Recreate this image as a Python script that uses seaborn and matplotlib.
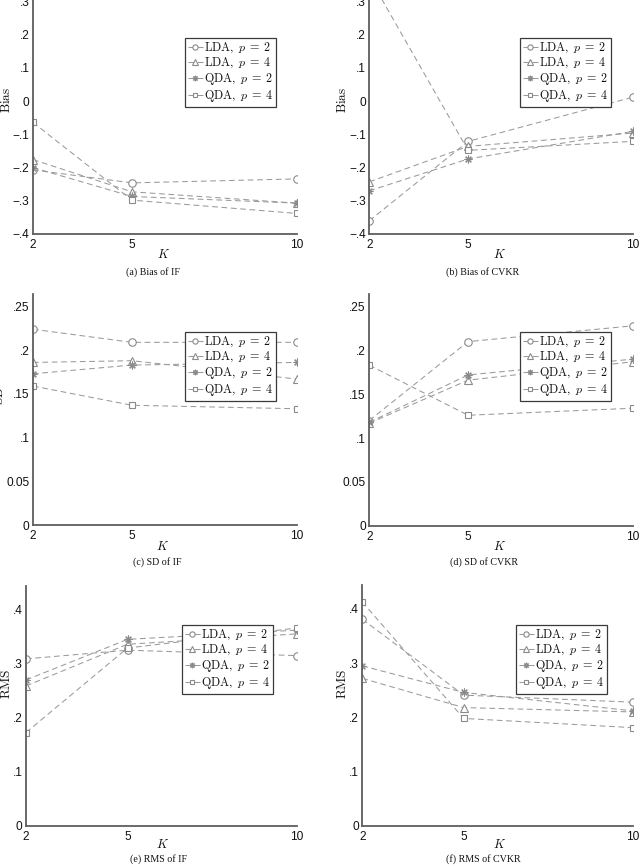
import matplotlib
matplotlib.use("Agg")
import matplotlib.pyplot as plt
import seaborn as sns
from matplotlib.transforms import Bbox, TransformedBbox

sns.set_theme(style="white")
plt.rcParams["font.family"] = ["Liberation Sans", "DejaVu Sans"]
plt.rcParams["mathtext.fontset"] = "cm"

# ---------------- data ----------------
K = [2, 5, 10]
xticklabels = ["2", "5", "10"]
series_labels = [r"$\mathrm{LDA},\ p\:=\:2$", r"$\mathrm{LDA},\ p\:=\:4$",
                 r"$\mathrm{QDA},\ p\:=\:2$", r"$\mathrm{QDA},\ p\:=\:4$"]

bias_if_lda2 = [-0.207, -0.246, -0.234]
bias_if_lda4 = [-0.176, -0.273, -0.307]
bias_if_qda2 = [-0.200, -0.287, -0.307]
bias_if_qda4 = [-0.064, -0.298, -0.338]

bias_cvkr_lda2 = [-0.360, -0.121, 0.012]
bias_cvkr_lda4 = [-0.243, -0.136, -0.096]
bias_cvkr_qda2 = [-0.270, -0.174, -0.091]
bias_cvkr_qda4 = [0.373, -0.148, -0.121]

sd_if_lda2 = [0.224, 0.209, 0.209]
sd_if_lda4 = [0.186, 0.188, 0.167]
sd_if_qda2 = [0.173, 0.183, 0.186]
sd_if_qda4 = [0.159, 0.137, 0.133]

sd_cvkr_lda2 = [0.120, 0.210, 0.228]
sd_cvkr_lda4 = [0.117, 0.166, 0.187]
sd_cvkr_qda2 = [0.118, 0.172, 0.190]
sd_cvkr_qda4 = [0.183, 0.126, 0.134]

rms_if_lda2 = [0.308, 0.324, 0.314]
rms_if_lda4 = [0.258, 0.335, 0.354]
rms_if_qda2 = [0.269, 0.344, 0.361]
rms_if_qda4 = [0.172, 0.328, 0.365]

rms_cvkr_lda2 = [0.381, 0.241, 0.228]
rms_cvkr_lda4 = [0.272, 0.218, 0.210]
rms_cvkr_qda2 = [0.295, 0.246, 0.212]
rms_cvkr_qda4 = [0.413, 0.198, 0.181]

bias_ticks = [-0.4, -0.3, -0.2, -0.1, 0, 0.1, 0.2, 0.3]
bias_ticklabels = ["\u2212.4", "\u2212.3", "\u2212.2", "\u2212.1", "0", ".1", ".2", ".3"]
sd_ticks = [0, 0.05, 0.1, 0.15, 0.2, 0.25]
sd_ticklabels = ["0", "0.05", ".1", ".15", ".2", ".25"]
rms_ticks = [0, 0.1, 0.2, 0.3, 0.4]
rms_ticklabels = ["0", ".1", ".2", ".3", ".4"]

captions = ["(a) Bias of IF", "(b) Bias of CVKR", "(c) SD of IF",
            "(d) SD of CVKR", "(e) RMS of IF", "(f) RMS of CVKR"]

# ---------------- figure ----------------
W, H = 640, 868
fig = plt.figure(figsize=(W / 100, H / 100), dpi=100)


def add_ax_px(left, top, right, bottom):
    return fig.add_axes([left / W, 1 - bottom / H, (right - left) / W, (bottom - top) / H])


line_color = "#9a9a9a"
marker_color = "#8a8a8a"
spine_color = "#5e5e5e"
markers = ["o", "^", (8, 2, 0), "s"]
msizes = [5.4, 5.8, 5.6, 4.8]


def draw_panel(ax, series, ylim, ticks, ticklabels, legend_xy):
    for vals, lab, mk, ms in zip(series, series_labels, markers, msizes):
        sns.lineplot(x=K, y=vals, ax=ax, color=line_color, lw=0.75,
                     linestyle=(0, (5.5, 3.5)), marker=mk, markersize=ms,
                     markerfacecolor="white", markeredgecolor=marker_color,
                     markeredgewidth=0.8, label=lab, legend=False, clip_on=True)
    ax.set_xlim(2, 10)
    ax.set_ylim(*ylim)
    ax.set_xticks(K)
    ax.set_xticklabels(xticklabels)
    ax.set_yticks(ticks)
    ax.set_yticklabels(ticklabels)
    ax.set_xlabel("")
    ax.set_ylabel("")
    for s in ["top", "right"]:
        ax.spines[s].set_visible(False)
    for s in ["left", "bottom"]:
        ax.spines[s].set_color(spine_color)
        ax.spines[s].set_linewidth(1.3)
    ax.tick_params(direction="in", length=2.5, width=0.8, color=spine_color,
                   labelsize=8.6, labelcolor="#111111", pad=2.5)
    ax.tick_params(axis="x", pad=3.5)
    ax.patch.set_alpha(0)
    handles = ax.get_lines()[:4]
    leg = ax.legend(handles, series_labels, loc="upper left",
                    bbox_to_anchor=(legend_xy[0] / W, 1 - legend_xy[1] / H),
                    bbox_transform=fig.transFigure, borderaxespad=0,
                    fontsize=8.7, handlelength=1.25, handletextpad=0.12,
                    labelspacing=0.08, borderpad=0.22, markerscale=0.7,
                    frameon=True, fancybox=False, framealpha=1)
    leg.get_frame().set_edgecolor("#3a3a3a")
    leg.get_frame().set_linewidth(0.9)
    for t in leg.get_texts():
        t.set_color("#111111")


# (a)
ax_a = add_ax_px(33, 234 - 0.8 * 332, 297, 234)
draw_panel(ax_a, [bias_if_lda2, bias_if_lda4, bias_if_qda2, bias_if_qda4],
           (-0.4, 0.4), bias_ticks, bias_ticklabels, (185, 38))
# (b)
ax_b = add_ax_px(369.3, 234 - 0.8 * 332, 632.7, 234)
draw_panel(ax_b, [bias_cvkr_lda2, bias_cvkr_lda4, bias_cvkr_qda2, bias_cvkr_qda4],
           (-0.4, 0.4), bias_ticks, bias_ticklabels, (520, 38))
# (c)
ax_c = add_ax_px(33, 294, 296.7, 525)
draw_panel(ax_c, [sd_if_lda2, sd_if_lda4, sd_if_qda2, sd_if_qda4],
           (0, 0.2643), sd_ticks, sd_ticklabels, (185, 332))
# (d)
ax_d = add_ax_px(369.3, 294, 632.7, 525.7)
draw_panel(ax_d, [sd_cvkr_lda2, sd_cvkr_lda4, sd_cvkr_qda2, sd_cvkr_qda4],
           (0, 0.2643), sd_ticks, sd_ticklabels, (520, 332))
# (e)
ax_e = add_ax_px(26, 586, 296.7, 825.7)
draw_panel(ax_e, [rms_if_lda2, rms_if_lda4, rms_if_qda2, rms_if_qda4],
           (0, 0.4425), rms_ticks, rms_ticklabels, (182, 625))
# (f)
ax_f = add_ax_px(362.3, 585, 632.7, 825.7)
draw_panel(ax_f, [rms_cvkr_lda2, rms_cvkr_lda4, rms_cvkr_qda2, rms_cvkr_qda4],
           (0, 0.4443), rms_ticks, rms_ticklabels, (516, 625))


def ftext(x, y, s, **kw):
    return fig.text(x / W, 1 - y / H, s, ha="center", va="center", **kw)


# y labels
ftext(7, 100, r"$\mathrm{Bias}$", rotation=90, fontsize=9.5, color="#111111")
ftext(342, 100, r"$\mathrm{Bias}$", rotation=90, fontsize=9.5, color="#111111")
ftext(0, 396, r"$\mathrm{SD}$", rotation=90, fontsize=9.5, color="#111111")
t_sd = ftext(334, 396, r"$\mathrm{SD}$", rotation=90, fontsize=9.5, color="#111111")
t_sd.set_clip_box(TransformedBbox(Bbox.from_extents(337 / W, 0, 1, 1), fig.transFigure))
t_sd.set_clip_on(True)
ftext(7, 684, r"$\mathrm{RMS}$", rotation=90, fontsize=9.5, color="#111111")
ftext(342, 684, r"$\mathrm{RMS}$", rotation=90, fontsize=9.5, color="#111111")

# x labels
for (x, y) in [(164, 255), (500, 255), (163, 547), (500, 547), (163, 845), (500, 845)]:
    ftext(x, y, r"$K$", fontsize=9, color="#111111")

# captions
for (x, y), s in zip([(153, 272), (483, 272), (157, 562), (484, 562), (159, 859), (483, 859)],
                     captions):
    ftext(x, y, s, fontsize=7.2, color="#111111", family=["Liberation Serif", "DejaVu Serif"])

fig.savefig("out.png", dpi=100)
